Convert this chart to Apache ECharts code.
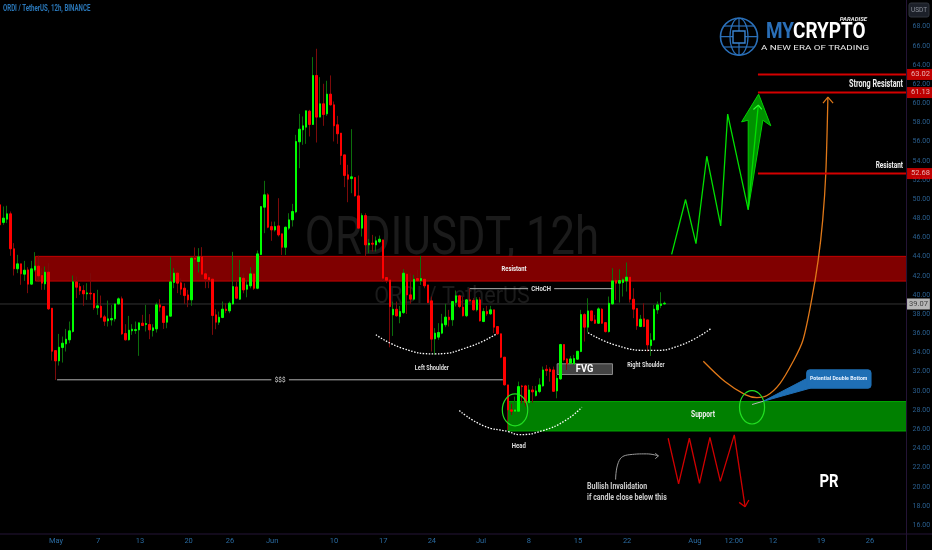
<!DOCTYPE html>
<html><head><meta charset="utf-8">
<style>html,body{margin:0;padding:0;background:#000}#c{width:932px;height:550px}</style>
<script src="https://cdn.jsdelivr.net/npm/echarts@6/dist/echarts.min.js"></script>
</head><body><div id="c"></div>
<script>
// ---- candles: [open, close, low, high] ----
const candlesMay = [
[49.42,47.33,47.26,50.36],[47.58,48.03,47.33,49.25],[47.92,48.48,47.51,49.32],[48.48,44.83,44.10,48.72],[44.83,42.74,42.04,45.42],
[42.74,43.26,42.29,44.2],[43.26,42.22,41.07,43.26],[42.18,42.6,41.48,43.57],[42.63,41.14,40.2,42.91],[41.14,42.74,41.07,43.57],
[42.63,43.02,42.46,44.48],[43.02,42.01,41.42,44.1],[42.04,41.24,40.55,42.81],[41.17,42.39,40.55,42.98],[42.39,38.56,38.46,43.33],
[38.63,34.14,33.17,38.63],[34.21,33.13,31.15,34.21],[33.13,34.56,32.65,35.95],[34.53,34.98,32.96,35.67],[34.91,35.4,34.11,36.47],
[35.33,36.27,34.98,37.24],[36.2,41.38,36.09,42.04],[41.38,40.82,39.68,41.94],[40.89,40.44,40.02,41.24],[40.48,40.13,38.88,41.03],
[40.13,40.23,39.5,41.24],[40.2,40.13,39.5,42.29],[40.16,38.67,38.46,40.16],[38.67,38.88,37.94,40.55],[38.84,37.69,37.59,39.95],
[37.73,37.27,36.79,37.94],[37.31,37.52,36.72,39.43],[37.41,37.55,36.82,38.98],[37.52,39.08,37.24,39.08],[39.08,39.61,38.98,39.75],
[39.61,35.95,35.85,39.85],[35.99,35.33,35.26,36.96],[35.33,36.34,35.26,37.83],[36.27,36.44,35.85,36.96],[36.3,36.4,35.95,37.24],
[36.37,37.1,33.66,37.14],[37.07,36.82,36.82,37.94],[36.93,37.03,36.2,38.98],[36.93,36.37,35.4,38.01],[36.3,36.58,35.67,36.96],
[36.47,38.98,36.09,39.22],[38.98,38.74,38.28,39.57],[38.81,37.14,36.47,38.81],[37.17,37.83,36.54,37.83],[37.8,41.38,37.76,43.96],
[41.31,42.29,40.72,42.81],[42.29,41.24,40.2,42.29],[41.28,40.62,40.02,41.76],[40.72,39.95,39.08,41.24],[40.02,39.5,38.74,40.55],
[39.5,43.85,38.88,43.92],[43.85,43.75,42.98,44.97],[43.5,43.99,42.36,44.9],[43.99,42.18,42.11,45],[42.22,41.69,40.72,42.63],
[41.83,41.59,40.72,42.11],[41.66,37.87,35.85,41.66],[37.94,37.17,36.44,38.53],[37.17,37.69,36.89,38.28],[37.66,38.53,37.59,39.33],
[38.53,38.39,38.11,39.15],[38.35,39.15,38.11,39.33]];
const candlesJune = [
[39.08,40.89,38.97,44.51],[40.85,39.67,39.57,41.41],[39.57,41.83,39.5,43.67],[41.76,40.54,40.19,42.28],[40.61,41.06,39.77,41.58],
[40.96,42.21,40.71,42.91],[42.21,40.71,40.54,42.21],[40.71,44.3,40.61,44.65],[44.23,49.24,44.19,49.24],[49.17,50.46,46.46,51.92],
[50.46,47.08,46.98,50.63],[47.15,46.8,45.66,47.67],[46.8,47.15,46.63,47.67],[47.22,46.28,46.11,50.11],[46.39,44.99,44.19,46.39],
[44.99,47.08,44.19,47.15],[46.98,47.85,46.8,48.54],[47.85,48.72,47.15,49.52],[48.68,56.03,48.54,56.72],[55.99,57.31,53.24,58.91],
[57.24,57.66,55.68,58.64],[57.52,59.23,55.78,59.23],[59.19,57.8,56.55,59.33],[57.8,62.92,57.77,64.83],[62.92,58.57,55.92,65.7],
[58.57,59.96,58.57,62.74],[59.96,58.84,57.66,62.05],[58.91,60.97,58.7,62.36],[60.97,59.85,59.78,62.92],[59.85,57.66,56.03,60.2],
[57.77,56.83,55.78,58.7],[56.9,54.56,53.59,56.9],[54.63,52.48,51.26,54.63],[52.55,52.09,49.69,53.59],[52.16,52.34,50.63,57.31],
[52.27,50.35,50.28,52.27],[50.35,46.98,46.98,52.48],[46.98,48.3,46.11,48.54],[48.3,45.24,44.02,48.54],[45.24,45.41,44.37,45.86],
[45.41,45.31,44.54,46.28],[45.24,45.66,44.54,46.11],[45.55,45.83,45.41,46.21],[45.76,41.76,41.41,45.76],[41.83,41.55,41.24,41.83],
[41.58,38.8,34.55,41.58],[37.93,38.52,35.74,39.32],[38.52,37.83,37.76,39.32],[37.76,38.28,37.06,38.87],[38.17,42.28,38.03,42.7],
[42.18,40.02,38.03,42.28],[40.02,39.57,39.08,42.28],[39.57,41.65,39.43,42.11],[41.72,41.51,41.41,42.63],[41.51,41.72,41.06,44.09],
[41.65,40.96,40.71,41.65],[41.06,39.22,39.15,41.06]];
const candlesJuly = [
[39.4,35.4,34.11,39.85],[35.43,36.03,33.76,36.55],[35.61,36.1,35.33,37.07],[36.03,37.0,35.92,38.04],[36.9,37.7,36.65,39.09],
[37.7,37.42,36.72,38.46],[37.42,39.33,36.79,39.33],[39.23,39.92,38.81,40.48],[39.92,38.81,38.64,40.03],[38.74,37.84,37.77,39.85],
[37.84,39.5,37.7,39.58],[39.5,39.4,39.33,40.72],[39.44,38.46,38.39,39.68],[38.46,39.5,38.29,39.78],[39.5,37.31,37.24,39.78],
[37.24,38.29,37.17,38.64],[38.29,38.04,37.84,38.88],[38.04,38.46,37.94,38.88],[38.46,36.65,36.03,38.46],[36.72,35.96,35.85,36.72],
[35.96,33.52,33.42,35.96],[33.52,30.63,30.56,33.52],[30.63,28.02,25.93,30.63],[28.02,27.88,27.49,28.64],[27.88,28.02,27.67,29.41],
[27.88,30.45,27.67,30.97],[30.52,30.45,28.71,30.63],[30.52,28.82,28.36,30.63],[28.78,30.1,26.97,30.63],[30.1,29.9,28.78,30.52],
[29.51,30.0,29.41,30.52],[29.93,30.63,29.76,31.32],[30.52,32.19,30.45,32.54],[32.26,32.12,31.57,32.71],[32.26,32.02,30.97,32.47],
[32.19,29.96,29.89,32.54],[30.0,31.32,29.23,31.67],[31.25,34.84,31.15,34.91],[34.84,33.24,33.06,34.84],[33.34,32.82,32.19,33.41],
[32.89,33.34,32.82,33.65],[32.82,33.38,32.71,33.76],[33.31,34.14,33.24,34.14],[34.11,37.97,34.04,38.46],[37.97,36.65,35.15,38.11],
[36.65,38.35,36.09,39.67],[38.35,37.34,37.24,38.35],[37.41,37.06,36.99,37.93],[37.06,38.56,36.99,38.73],[38.53,37.06,36.99,38.63],
[37.13,36.19,36.09,37.13],[36.19,39.15,36.09,39.85],[39.08,41.48,38.98,42.81],[41.52,41.24,39.5,41.76],[41.24,41.52,39.22,42.7],
[41.31,41.59,39.85,41.76],[41.48,41.87,40.37,43.4],[41.87,39.57,39.22,41.87],[39.57,38.53,37.59,40.72],[38.6,36.79,36.37,38.6],
[36.72,37.48,36.65,37.93],[37.52,36.72,36.65,39.15],[37.41,34.8,34.11,37.41],[34.73,35.32,33.65,36.02],[35.32,38.53,35.25,38.98],
[38.46,38.98,38.04,39.33],[38.91,39.08,38.63,40.3],[39.08,39.15,38.98,39.33]];

// ---- axes ----
const barCount = 261;
const priceTicks = [16,18,20,22,24,26,28,30,32,34,36,38,40,42,44,46,48,50,52,54,56,58,60,62,64,66,68];
const timeTickBars = [16.1,28.2,40.2,54.2,66.1,78.2,96,110.1,124.1,138.2,152,166.1,180.2,199.7,210.9,222.1,235.9,250];
const timeTickLabels = ['May','7','13','20','26','Jun','10','17','24','Jul','8','15','22','Aug','12:00','12','19','26'];

// ---- levels and zones: [barFrom, barTo, priceTop, priceBottom] ----
const lastPrice = 39.07;
const resistanceLevels = [63.02, 61.13, 52.68];
const resistanceZone = [10.2, 260.5, 44.04, 41.46];
const supportZone = [146, 260.5, 28.89, 25.82];
const fvgZone = [160.1, 176, 32.83, 31.71];
const calloutBox = [231.8, 250.3, 32.2, 30.28];
const levelStart = 217.8, axisEndBar = 260.5;

// ---- drawings: [bar, price] ----
const liquidityLine = [[16.4,31.16],[144.5,31.16]];
const chochLine = [[135,40.67],[176,40.67]];
const leftShoulder = [[108,35.86],[115.8,34.43],[125,33.87],[135.1,34.64],[142.7,35.96]];
const headArc = [[132,27.95],[138.8,26.38],[146.1,25.75],[149.1,25.44],[156,25.86],[162.4,26.9],[167.2,28.29]];
const rightShoulder = [[169,36.07],[177.2,34.74],[186.8,34.22],[195.4,34.74],[204.2,36.49]];
const bullZigzag = [[193,44.25],[197,49.97],[200,45.37],[203.1,54.49],[207.1,47.21],[209.1,58.88],[215,48.92],[217.9,59.82]];
const bullTipBarbs = [[216.5,59.37],[217.9,59.82],[218.9,59.37]];
const bullArrow = [[215,48.92],[215,58.25],[213.1,58.07],[218,60.97],[221.5,57.66],[219.2,58.25]];
const orangeCurve = [[202.1,33.1],[208.3,30.98],[214.1,29.62],[217.5,29.31],[220.4,29.52],[224.1,30.77],[227.9,33.07],[230.7,35.26],[233.3,39.65],[235.1,43.62],[236.4,47.8],[237.3,52.71],[237.9,60.65]];
const orangeBarbs = [[236.5,60.03],[237.9,60.65],[239.4,60.03]];
const bearZigzag = [[192,25.06],[195,20.29],[198.1,25.06],[201,20.35],[204,25.16],[207,20.56],[211,25.41],[214.1,17.92]];
const bearBarbs = [[212.4,18.37],[214.1,17.92],[215.2,18.62]];
const noteCurve = [[176.9,20.74],[177.7,22.55],[181,23.35],[185.8,23.43],[189.2,23.22]];
const noteBarbs = [[188.3,23.49],[189.2,23.22],[188.3,22.93]];
const calloutTail = [[219.3,28.92],[231.8,31.29],[232.8,30.28]];
const calloutPointer = [[216.1,28.58],[219.3,28.92]];
const circles = [[216.1,28.29,3.6,1.74],[148,28.02,3.65,1.67]];
const textNotes = [
 {t:'Resistant',at:[147.7,42.68],c:'#eee',s:7.5,w:.78,b:1},{t:'Support',at:[202,27.53],c:'#eee',s:8.5,w:.78,b:1},
 {t:'Left Shoulder',at:[124.1,32.34],c:'#ddd',s:7.5,w:.75,b:1},{t:'Right Shoulder',at:[185.6,32.65],c:'#ddd',s:7.5,w:.75,b:1},
 {t:'Head',at:[149.1,24.29],c:'#ddd',s:7.5,w:.8,b:1},{t:'FVG',at:[168,32.27],c:'#fff',s:11,w:.85,b:1},
 {t:'PR',at:[238.2,20.43],c:'#fff',s:17.5,w:.85,b:1},{t:'Potential Double Bottom',at:[241,31.24],c:'#e8f2ff',s:5.5,w:.95,b:1},
 {t:'CHoCH',at:[155.5,40.67],c:'#ddd',s:7.5,w:.8,b:1,bg:1},{t:'$$$',at:[80.5,31.16],c:'#ddd',s:7.5,w:.85,bg:1}];
const rightNotes = [{t:'Strong Resistant',at:[259.5,62.01],s:10,w:.72,b:1,c:'#eee'},{t:'Resistant',at:[259.5,53.45],s:8.5,w:.76,b:1,c:'#eee'}];
const leftNotes = [{t:'Bullish Invalidation\nif candle close below this',at:[168.7,19.38],s:9,w:.78,b:1,c:'#ccc'}];

const font = 'Roboto, sans-serif';
const allCandles = candlesMay.concat(candlesJune, candlesJuly);
const bodies = allCandles.map(d => [d[0], d[1], Math.min(d[0],d[1]), Math.max(d[0],d[1])]);
const cats = Array.from({length: barCount}, (_, i) => String(i));

function line(data, color, width, extra) {
  return Object.assign({type:'line', xAxisIndex:1, yAxisIndex:0, data, showSymbol:false, symbol:'none', silent:true, animation:false,
    z:4, lineStyle:{color, width}}, extra || {});
}
function zone(box, fill, stroke, z, r) {
  return {type:'custom', xAxisIndex:1, yAxisIndex:0, silent:true, animation:false, z, clip:false, data:[box],
    encode:{x:[0,1],y:[2,3]},
    renderItem(p, api){
      const a = api.coord([api.value(0), api.value(2)]), b = api.coord([api.value(1), api.value(3)]);
      return {type:'rect', shape:{x:a[0], y:a[1], width:b[0]-a[0], height:b[1]-a[1], r:r||0},
        style:{fill, stroke, lineWidth:1}};
    }};
}
function polygon(points, fill, stroke, z) {
  return {type:'custom', xAxisIndex:1, yAxisIndex:0, silent:true, animation:false, z, clip:false, data:points,
    encode:{x:0,y:1},
    renderItem(p, api){
      if (p.dataIndex !== 0) return null;
      return {type:'polygon', shape:{points:points.map(q => api.coord(q))}, style:{fill, stroke, lineWidth:1}};
    }};
}
function notes(list, align) {
  return {type:'custom', xAxisIndex:1, yAxisIndex:0, silent:true, animation:false, z:8, clip:false,
    data:list.map(n => n.at), encode:{x:0,y:1},
    renderItem(p, api){
      const n = list[p.dataIndex], c = api.coord([api.value(0), api.value(1)]);
      const style = {text:n.t, fill:n.c||'#ddd', font:(n.b?'bold ':'')+n.s+'px '+font, textAlign:align, textVerticalAlign:'middle', lineHeight:n.s+2};
      if (n.bg) { style.backgroundColor = '#000'; style.padding = [0,4]; }
      return {type:'text', x:c[0], y:c[1], scaleX:n.w||1, style};
    }};
}

const series = [
  zone(resistanceZone, '#800000', '#c40000', 1),
  zone(supportZone, '#008000', '#00a800', 1),
  zone(fvgZone, '#434343', '#8a8a8a', 1),
  line([[-0.5,lastPrice],[axisEndBar,lastPrice]], '#333', 1, {z:1}),
  {type:'candlestick', xAxisIndex:0, yAxisIndex:0, data:allCandles, barWidth:1, silent:true, animation:false, z:2,
    itemStyle:{color:'#0c6e0c', color0:'#7c0a0a', borderColor:'#0c6e0c', borderColor0:'#7c0a0a', borderWidth:1}},
  {type:'candlestick', xAxisIndex:0, yAxisIndex:0, data:bodies, barWidth:2, silent:true, animation:false, z:3,
    itemStyle:{color:'#00ff00', color0:'#ff0000', borderColor:'#00ff00', borderColor0:'#ff0000', borderWidth:1}},
  line(liquidityLine, '#b0b0b0', 1),
  line(chochLine, '#b0b0b0', 1),
  line(leftShoulder, '#fff', 1.3, {smooth:true, lineStyle:{color:'#fff', width:1.3, type:[1.5,1.5]}}),
  line(headArc, '#fff', 1.3, {smooth:true, lineStyle:{color:'#fff', width:1.3, type:[1.5,1.5]}}),
  line(rightShoulder, '#fff', 1.3, {smooth:true, lineStyle:{color:'#fff', width:1.3, type:[1.5,1.5]}}),
  polygon(bullArrow, 'rgba(0,170,0,0.85)', '#00d000', 4),
  line(bullZigzag, '#00e000', 1.3, {z:5}),
  line(bullTipBarbs, '#30ff30', 1.3, {z:5}),
  line(orangeCurve, '#e07818', 1.3, {smooth:0.3}),
  line(orangeBarbs, '#e07818', 1.2),
  line(bearZigzag, '#d00000', 1.3),
  line(bearBarbs, '#d00000', 1.3),
  line(noteCurve, '#9a9a9a', 1, {smooth:true}),
  line(noteBarbs, '#9a9a9a', 1),
  polygon(calloutTail, '#1f6fb5', '#1f6fb5', 5),
  zone(calloutBox, '#1f6fb5', '#1f6fb5', 5, 3),
  line(calloutPointer, '#b5b5b5', 1, {z:6}),
  {type:'custom', xAxisIndex:1, yAxisIndex:0, silent:true, animation:false, z:6, clip:false, data:circles,
    encode:{x:0,y:1},
    renderItem(p, api){
      const c = api.coord([api.value(0), api.value(1)]), s = api.size([api.value(2), api.value(3)]);
      return {type:'ellipse', shape:{cx:c[0], cy:c[1], rx:s[0], ry:s[1]}, style:{fill:'none', stroke:'#22e022', lineWidth:1.2}};
    }},
  ...resistanceLevels.map(v => line([[levelStart,v],[axisEndBar,v]], '#d40000', 2)),
  notes(textNotes, 'center'),
  notes(rightNotes, 'right'),
  notes(leftNotes, 'left'),
  {type:'scatter', xAxisIndex:1, yAxisIndex:0, silent:true, animation:false, z:9, symbolSize:1, clip:false, itemStyle:{color:'rgba(0,0,0,0)'},
    data:resistanceLevels.map(v => ({value:[axisEndBar,v], label:{show:true, position:'right', distance:0, formatter:v.toFixed(2),
      fontFamily:font, fontSize:7.5, color:'#f0d8d8', backgroundColor:'#ee0000', padding:[2,4,1,4]}})).concat([
      {value:[axisEndBar,lastPrice], label:{show:true, position:'right', distance:0, formatter:lastPrice.toFixed(2),
      fontFamily:font, fontSize:7.5, color:'#222', backgroundColor:'#e4e4e4', padding:[2,2,1,2]}}])}
];

const graphic = [
  {type:'text', x:3, y:9, z:11, scaleX:0.72, style:{text:'ORDI / TetherUS, 12h, BINANCE', fill:'#2a77b8', font:'bold 8.5px Roboto', textVerticalAlign:'middle'}},
  {type:'text', x:452, y:240, z:0, scaleX:0.81, style:{text:'ORDIUSDT, 12h', fill:'#1b1b1b', font:'54px Roboto', textAlign:'center', textVerticalAlign:'middle'}},
  {type:'text', x:452, y:297, z:0, scaleX:0.9, style:{text:'ORDI / TetherUS', fill:'#1b1b1b', font:'24px Roboto', textAlign:'center', textVerticalAlign:'middle'}},
  {type:'line', z:10, shape:{x1:0,y1:534,x2:932,y2:534}, style:{stroke:'#241436', lineWidth:1}},
  {type:'line', z:10, shape:{x1:906.5,y1:0,x2:906.5,y2:550}, style:{stroke:'#241436', lineWidth:1}},
  {type:'rect', z:10, shape:{x:909,y:3,width:20,height:14,r:2}, style:{fill:'#1c2029', stroke:'#30343d', lineWidth:1}},
  {type:'text', z:11, x:919, y:10, style:{text:'USDT', fill:'#8a8f99', font:'6.5px Roboto', textAlign:'center', textVerticalAlign:'middle'}},
  // logo
  {type:'circle', z:10, shape:{cx:739,cy:36.7,r:18.5}, style:{fill:'none', stroke:'#2a6fb8', lineWidth:1.6}},
  {type:'ellipse', z:10, shape:{cx:739,cy:36.7,rx:9,ry:18.5}, style:{fill:'none', stroke:'#2a6fb8', lineWidth:1.2}},
  {type:'line', z:10, shape:{x1:739,y1:18,x2:739,y2:55}, style:{stroke:'#2a6fb8', lineWidth:1.2}},
  {type:'line', z:10, shape:{x1:724,y1:26,x2:754,y2:26}, style:{stroke:'#2a6fb8', lineWidth:1.2}},
  {type:'line', z:10, shape:{x1:724,y1:47,x2:754,y2:47}, style:{stroke:'#2a6fb8', lineWidth:1.2}},
  {type:'line', z:10, shape:{x1:721,y1:36.7,x2:757,y2:36.7}, style:{stroke:'#2a6fb8', lineWidth:1.2}},
  {type:'rect', z:11, shape:{x:733,y:31,width:12,height:12}, style:{fill:'#000', stroke:'#3a84d0', lineWidth:1.4}},
  {type:'text', z:11, x:766, y:32, style:{text:'MY', fill:'#2a6fb8', font:'bold 22px Roboto', textVerticalAlign:'middle'}, scaleX:0.86},
  {type:'text', z:11, x:793, y:32, style:{text:'CRYPTO', fill:'#fff', font:'bold 22px Roboto', textVerticalAlign:'middle'}, scaleX:0.86},
  {type:'text', z:11, x:867, y:19, style:{text:'PARADISE', fill:'#e8e8e8', font:'italic bold 6px Roboto', textAlign:'right', textVerticalAlign:'middle'}},
  {type:'text', z:11, x:761, y:48, scaleX:1.5, style:{text:'A NEW ERA OF TRADING', fill:'#e8e8e8', font:'6.5px Roboto', textVerticalAlign:'middle'}}
];

const option = {
  backgroundColor:'#000', animation:false,
  grid:{left:-1.74, width:908.28, top:0, height:534, outerBoundsMode:'none'},
  xAxis:[
    {type:'category', data:cats, gridIndex:0, show:false, boundaryGap:true},
    {type:'value', gridIndex:0, min:-0.5, max:barCount-0.5, position:'bottom', splitLine:{show:false}, axisLine:{show:false}, axisTick:{show:false},
     axisLabel:{customValues:timeTickBars, margin:3, fontSize:7.5, fontFamily:font, color:'#2a6aa0',
       formatter:v => timeTickLabels[timeTickBars.indexOf(v)] || ''}}
  ],
  yAxis:[{type:'value', position:'right', min:15.07, max:70.79, scale:true, splitLine:{show:false}, axisLine:{show:false}, axisTick:{show:false},
     axisLabel:{customValues:priceTicks, margin:6, fontSize:7, fontFamily:font, color:'#2a5f8f', formatter:v => v.toFixed(2)}}],
  series, graphic
};
echarts.init(document.getElementById('c'), null, {renderer:'canvas'}).setOption(option);
</script></body></html>
